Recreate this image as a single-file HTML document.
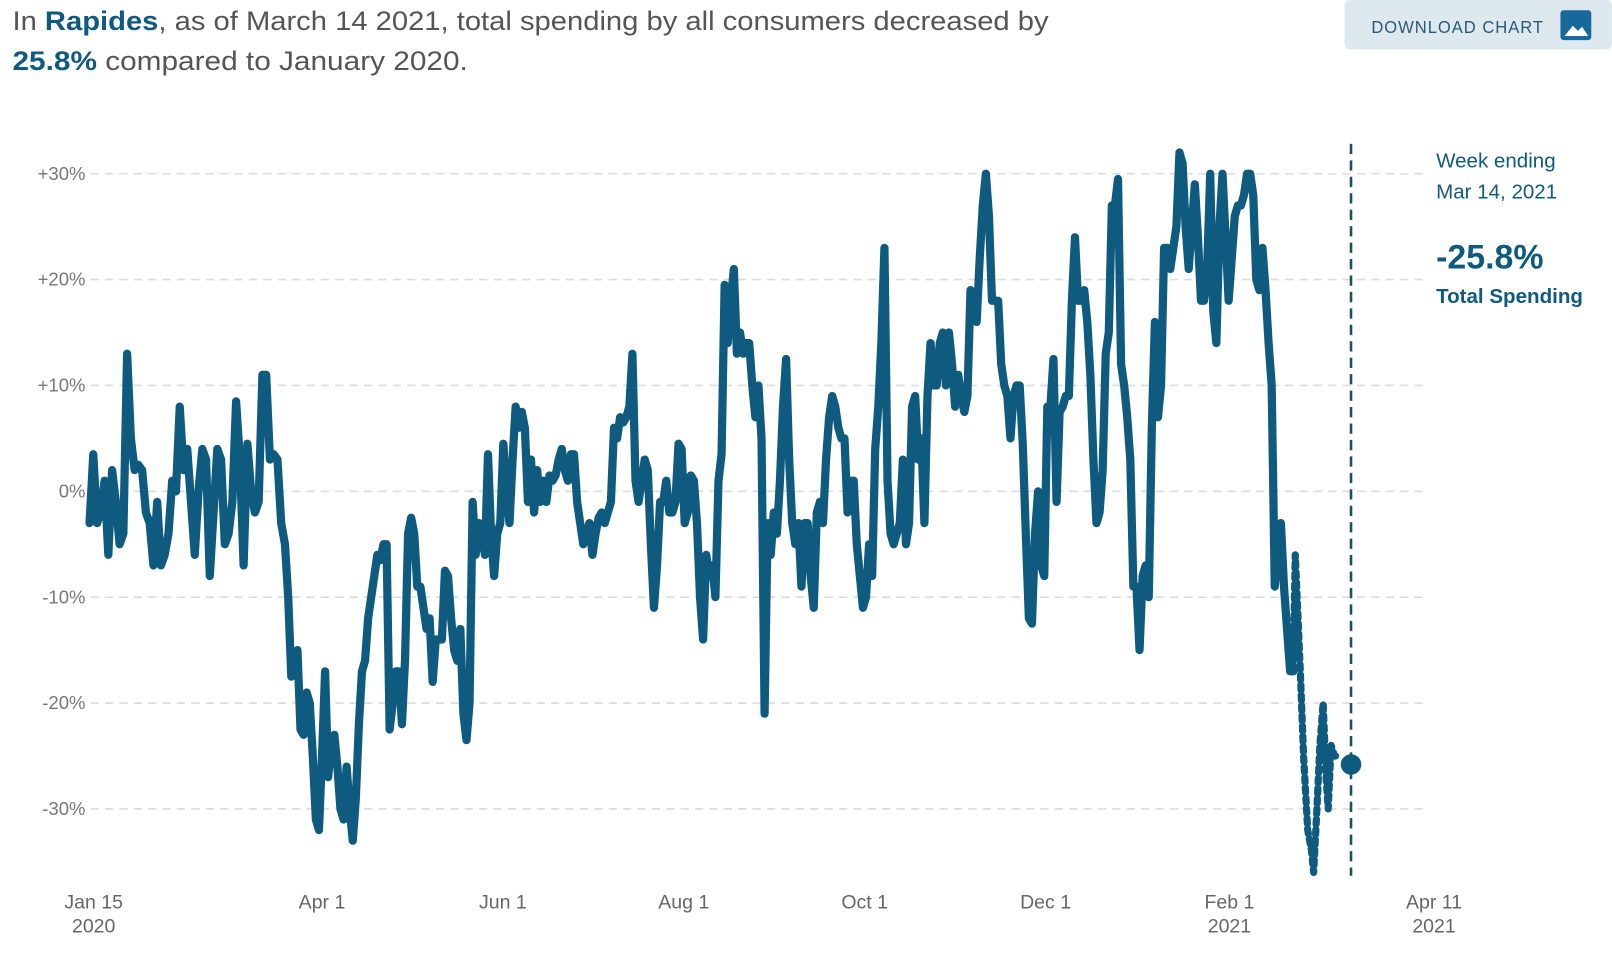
<!DOCTYPE html>
<html><head><meta charset="utf-8">
<style>
html,body{margin:0;padding:0;background:#fff;}
svg{display:block;font-family:"Liberation Sans",sans-serif;}
</style></head>
<body>
<svg id="chart" width="1612" height="959" viewBox="0 0 1568 933" xmlns="http://www.w3.org/2000/svg">
  <g>
    <text x="12" y="29" font-size="26" fill="#555" textLength="1008" lengthAdjust="spacingAndGlyphs">In <tspan font-weight="bold" fill="#0f5a7f">Rapides</tspan>, as of March 14 2021, total spending by all consumers decreased by</text>
    <text x="12" y="68" font-size="26" fill="#555" textLength="443" lengthAdjust="spacingAndGlyphs"><tspan font-weight="bold" fill="#0f5a7f">25.8%</tspan> compared to January 2020.</text>
  </g>
  <g>
    <rect x="1308" y="0" width="260" height="48" rx="5" fill="#dde8ef"/>
    <text x="1334" y="32" font-size="17" fill="#2b5a72" letter-spacing="1" textLength="168" lengthAdjust="spacingAndGlyphs">DOWNLOAD CHART</text>
    <rect x="1518" y="10" width="30" height="29" rx="3" fill="#16699a"/>
    <path d="M1522 35 L1530 25 L1535 30 L1539 26 L1545 35 Z" fill="#fff"/>
  </g>
  <g id="grid"></g>
  <g id="yticks"></g>
  <g id="xticks"></g>
  <g id="series"></g>
  <g>
    <text x="1397" y="163" font-size="20" fill="#0f5a7f">Week ending</text>
    <text x="1397" y="193" font-size="20" fill="#0f5a7f">Mar 14, 2021</text>
    <text x="1397" y="261" font-size="33" font-weight="bold" fill="#0f5a7f">-25.8%</text>
    <text x="1397" y="295" font-size="20" font-weight="bold" fill="#0f5a7f">Total Spending</text>
  </g>
</svg>
<script>
const yTicks = [30, 20, 10, 0, -10, -20, -30];
const yTickLabels = ["+30%", "+20%", "+10%", "0%", "-10%", "-20%", "-30%"];
const xTickDays = [0, 77, 138, 199, 260, 321, 383, 452];
const xTickLabels = ["Jan 15", "Apr 1", "Jun 1", "Aug 1", "Oct 1", "Dec 1", "Feb 1", "Apr 11"];
const xTickYears = ["2020", "", "", "", "", "", "2021", "2021"];
// days since Jan 15 2020
const segAStart = -1.4, segAEnd = 64.5;
const valuesA = [-3,3.5,-3,-2,1,-6,2,-1,-5,-4,13,5,2,2.5,2,-2,-3,-7,-1,-7,-6,-4,1,0,8,2,4,-1,-6,0,4,3,-8,-2,4,3,-5,-4,-1,8.5,3,-7,4.5,0,-2,-1,11,11,3,3.5,3,-3,-5];
const segBStart = 65.6, segBEnd = 404.5;
const valuesB = [-10,-17.5,-17,-15,-22.5,-23,-19,-20,-25,-31,-32,-25,-17,-27,-24,-23,-26,-30,-31,-26,-30,-33,-29,-22,-17,-16,-12,-10,-8,-6,-6.5,-5,-5,-22.5,-20,-17,-17,-22,-16,-4,-2.5,-4,-9,-9,-11,-13,-12,-18,-14,-14,-14,-7.5,-8,-12,-15,-16,-13,-21,-23.5,-20,-1,-6,-3,-4,-6,3.5,-4,-8,-4,-3,4.5,0,-3,3,8,6,7.5,6,-1,3,-2,2,-1,1,-1,1.5,1,1.5,3,4,2,1,3.5,3.5,-1,-3,-5,-4,-3,-6,-4,-2.5,-2,-3,-2,-1,6,5,7,6.5,7,8,13,1,-1,1,3,2,-5,-11,-7,-1,-1,1,-2,-2,-1,4.5,4,-3,-2,1.5,1,-3,-10,-14,-6,-8,-7,-10,1,3.5,19.5,14,18,21,13,15,13,14,14,10,7,10,5,-21,-3,-6,-2,-4,1,8,12.5,3,-3,-5,-3,-9,-3,-3,-8,-11,-2,-1,-3,3,7,9,8,6,5,5,-2,1,1,-5,-8,-11,-10,-5,-8,4,8,14,23,1,-4,-5,-4,-3,3,-5,-3,8,9,3,5,-3,9,14,10,10,14,15,10,15,12,8,11,9,7.5,9,19,18,16,22,27,30,26,18,18,18,12,10,9,5,9,10,10,4.5,-4,-12,-12.5,-4,0,-7,-8,8,8,12.5,-1,7.5,8,9,9,18,24,18,18,19,16,11,3,-3,-2,2,13,15,27,27,29.5,12,10,7,3,-9,-9,-15,-8,-7,-10,6,16,7,10,23,23,21,23,25,32,31,25,21,25,29,24,18,18,21,30,17,14,25,30,24,18,22,26,27,27,28,30,30,28,20,19,23,19,14,10,-9,-6,-3,-9,-13,-17,-17];
const dashDays = [405.2,406.9,408.0,409.4,410.7,411.4,412.5,413.5,414.6,415.6,416.3,417.3,418.4,420.1];
const dashValues = [-6,-17,-25,-32,-34,-36,-30,-24,-20,-27,-30,-24,-25,-25];
const latestDay = 424;
const latestValue = -25.8;

const NS = "http://www.w3.org/2000/svg";
const xS = d => 91 + d * 2.885;
const yS = v => 478 - v * 10.3;
function mk(tag, attrs, parent) {
  const e = document.createElementNS(NS, tag);
  for (const k in attrs) e.setAttribute(k, attrs[k]);
  parent.appendChild(e);
  return e;
}
const grid = document.getElementById('grid');
const yt = document.getElementById('yticks');
yTicks.forEach((v, i) => {
  const l = mk('line', {x1: 88, x2: 1390, y1: yS(v), y2: yS(v), stroke: '#dcdcdc', 'stroke-width': 1.5, 'stroke-dasharray': '8 6'}, grid);
  
  
  const t = mk('text', {x: 83, y: yS(v) + 6, 'text-anchor': 'end', 'font-size': 18, fill: '#777'}, yt);
  t.textContent = yTickLabels[i];
  
  
});
const xt = document.getElementById('xticks');
xTickDays.forEach((d, i) => {
  const t = mk('text', {x: xS(d), y: 884, 'text-anchor': 'middle', 'font-size': 19, fill: '#666'}, xt);
  t.textContent = xTickLabels[i];
  
  
  if (xTickYears[i]) {
    const y = mk('text', {x: xS(d), y: 907, 'text-anchor': 'middle', 'font-size': 19, fill: '#666'}, xt);
    y.textContent = xTickYears[i];
    
    
  }
});
const ser = document.getElementById('series');
const pts = [];
valuesA.forEach((v, i) => pts.push([xS(segAStart + (segAEnd - segAStart) * i / (valuesA.length - 1)), yS(v)]));
valuesB.forEach((v, i) => pts.push([xS(segBStart + (segBEnd - segBStart) * i / (valuesB.length - 1)), yS(v)]));
const mainLine = mk('polyline', {points: pts.map(p => p.join(',')).join(' '), fill: 'none', stroke: '#0f5a7f', 'stroke-width': 8, 'stroke-linejoin': 'round', 'stroke-linecap': 'round'}, ser);


const dpts = dashDays.map((d, i) => xS(d) + ',' + yS(dashValues[i])).join(' ');
const dashLine = mk('polyline', {points: pts[pts.length - 1].join(',') + ' ' + dpts, fill: 'none', stroke: '#0f5a7f', 'stroke-width': 7, 'stroke-dasharray': '5 5', 'stroke-linecap': 'round', 'stroke-linejoin': 'round'}, ser);


const vline = mk('line', {x1: xS(latestDay), x2: xS(latestDay), y1: 140, y2: 852, stroke: '#1f4e63', 'stroke-width': 2.5, 'stroke-dasharray': '10 6'}, ser);


const dot = mk('circle', {cx: xS(latestDay), cy: yS(latestValue), r: 10, fill: '#0f5a7f'}, ser);


</script>
</body></html>
